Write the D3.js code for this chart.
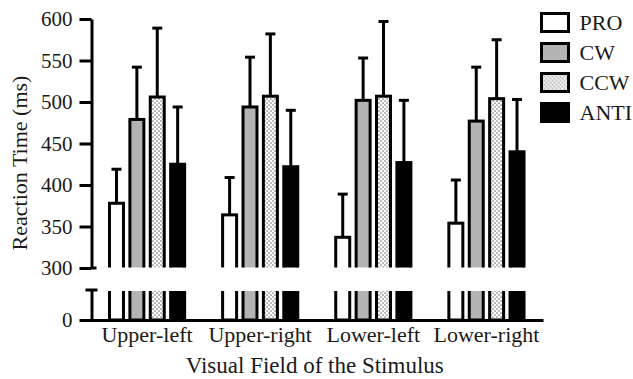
<!DOCTYPE html>
<html>
<head>
<meta charset="utf-8">
<script src="https://d3js.org/d3.v7.min.js"></script>
<style>
  body { margin: 0; background: #fff; }
  svg text { font-family: "Liberation Serif", "Times New Roman", serif; fill: #1a1a1a; }
</style>
</head>
<body>
<svg id="chart"></svg>
<script>
// data
var fields = ["Upper-left", "Upper-right", "Lower-left", "Lower-right"]
var conditions = ["PRO", "CW", "CCW", "ANTI"]
var proMean  = [378, 364, 337, 354]
var proSd    = [41, 45, 52, 52]
var cwMean   = [479, 494, 502, 477]
var cwSd     = [63, 60, 51, 65]
var ccwMean  = [506, 507, 507, 504]
var ccwSd    = [83, 75, 90, 71]
var antiMean = [425, 422, 427, 440]
var antiSd   = [69, 68, 75, 63]
var upperTicks = [300, 350, 400, 450, 500, 550, 600]
var lowerTicks = [0]

var means = [proMean, cwMean, ccwMean, antiMean]
var sds = [proSd, cwSd, ccwSd, antiSd]

var dataset = []
fields.forEach(function(f, i) {
  conditions.forEach(function(c, j) {
    dataset.push({field: f, cond: c, mean: means[j][i], sd: sds[j][i]})
  })
})

var dimensions = { width: 633, height: 379 }
var serif = '"Liberation Serif", "Times New Roman", serif'

var svg = d3.select("#chart")
            .attr("width", dimensions.width)
            .attr("height", dimensions.height)

var defs = svg.append("defs")
var pat = defs.append("pattern")
              .attr("id", "dots")
              .attr("patternUnits", "userSpaceOnUse")
              .attr("width", 4).attr("height", 4)
pat.append("rect").attr("width", 4).attr("height", 4).attr("fill", "#fff")
pat.append("circle").attr("cx", 1).attr("cy", 1).attr("r", 0.85).attr("fill", "#7a7a7a")
pat.append("circle").attr("cx", 3).attr("cy", 3).attr("r", 0.85).attr("fill", "#7a7a7a")

var fills = { PRO: "#fff", CW: "#b3b3b3", CCW: "url(#dots)", ANTI: "#000" }

// scales: broken y axis, upper part 300-600, lower stub from 0
var xScale = d3.scaleBand().domain(fields).range([90.5, 543]).padding(0)
var xSub = d3.scaleBand().domain(conditions).range([0, xScale.bandwidth()])
             .paddingInner(0.167).paddingOuter(0.858)
var yTop = d3.scaleLinear().domain([300, 600]).range([268, 19])
var yLow = d3.scaleLinear().domain([0, 36]).range([320, 290])

defs.append("clipPath").attr("id", "clipTop")
    .append("rect").attr("x", 0).attr("y", 0).attr("width", dimensions.width).attr("height", yTop(300) - 0.5)
defs.append("clipPath").attr("id", "clipLow")
    .append("rect").attr("x", 0).attr("y", yLow.range()[1] + 1).attr("width", dimensions.width)
    .attr("height", yLow(0) - yLow.range()[1])

var bw = xSub.bandwidth() - 3
function barX(d) { return xScale(d.field) + xSub(d.cond) + 1.5 }

// upper panel bars
svg.append("g").attr("clip-path", "url(#clipTop)")
   .selectAll("rect").data(dataset).enter().append("rect")
   .attr("x", barX)
   .attr("y", d => yTop(d.mean))
   .attr("width", bw)
   .attr("height", d => yTop(290) - yTop(d.mean))
   .attr("fill", d => fills[d.cond])
   .attr("stroke", "#000").attr("stroke-width", 3)

// lower panel bars
svg.append("g").attr("clip-path", "url(#clipLow)")
   .selectAll("rect").data(dataset).enter().append("rect")
   .attr("x", barX)
   .attr("y", d => yLow(Math.min(d.mean, 40)))
   .attr("width", bw)
   .attr("height", d => yLow(0) - yLow(Math.min(d.mean, 40)))
   .attr("fill", d => fills[d.cond])
   .attr("stroke", "#000").attr("stroke-width", 3)

// error bars (upward only)
var err = svg.append("g").attr("stroke", "#000").attr("stroke-width", 3)
err.selectAll("line.v").data(dataset).enter().append("line").attr("class", "v")
   .attr("x1", d => barX(d) + bw / 2).attr("x2", d => barX(d) + bw / 2)
   .attr("y1", d => yTop(d.mean)).attr("y2", d => yTop(d.mean + d.sd))
err.selectAll("line.c").data(dataset).enter().append("line").attr("class", "c")
   .attr("x1", d => barX(d) + bw / 2 - 5).attr("x2", d => barX(d) + bw / 2 + 5)
   .attr("y1", d => yTop(d.mean + d.sd)).attr("y2", d => yTop(d.mean + d.sd))

// axes
var axisX = 91.5
var yAxisTop = svg.append("g")
    .attr("transform", `translate(${axisX},0)`)
    .call(d3.axisLeft(yTop).tickValues(upperTicks).tickSize(12).tickSizeOuter(0).tickPadding(7))
var yAxisLow = svg.append("g")
    .attr("transform", `translate(${axisX},0)`)
    .call(d3.axisLeft(yLow).tickValues(lowerTicks).tickSize(12).tickSizeOuter(0).tickPadding(7))
svg.append("line")
   .attr("x1", axisX - 6).attr("x2", axisX + 6)
   .attr("y1", yLow.range()[1]).attr("y2", yLow.range()[1])
   .attr("stroke", "#000").attr("stroke-width", 3)
// short stub to the right of the 300 tick, as in the figure
svg.append("line")
   .attr("x1", axisX).attr("x2", axisX + 5)
   .attr("y1", yTop(300)).attr("y2", yTop(300))
   .attr("stroke", "#000").attr("stroke-width", 3)

var xAxis = svg.append("g")
    .attr("transform", `translate(0,${yLow(0)})`)
    .call(d3.axisBottom(xScale).tickSize(0).tickSizeOuter(0))

svg.selectAll(".domain, .tick line").attr("stroke", "#000").attr("stroke-width", 3)
;[yAxisTop, yAxisLow, xAxis].forEach(function(a) {
  a.attr("font-family", null).attr("font-size", null)
  a.selectAll("text").style("font-family", serif).attr("fill", "#1a1a1a")
})
yAxisTop.selectAll("text").style("font-size", "21px")
yAxisLow.selectAll("text").style("font-size", "21px")
xAxis.selectAll("text").style("font-size", "22px")
     .attr("y", 22).attr("dy", 0)

svg.append("text")
   .attr("x", (xScale.range()[0] + xScale.range()[1]) / 2 - 2)
   .attr("y", 373)
   .attr("text-anchor", "middle")
   .style("font-size", "23px")
   .text("Visual Field of the Stimulus")

svg.append("text")
   .attr("transform", "translate(27,163) rotate(-90)")
   .attr("text-anchor", "middle")
   .style("font-size", "22px")
   .text("Reaction Time (ms)")

// legend
var legend = svg.append("g").selectAll("g").data(conditions).enter().append("g")
    .attr("transform", (d, i) => `translate(541.5,${13.5 + i * 30})`)
legend.append("rect")
      .attr("width", 27).attr("height", 18)
      .attr("fill", d => fills[d])
      .attr("stroke", "#000").attr("stroke-width", 3)
legend.append("text")
      .attr("x", 38).attr("y", 16)
      .style("font-size", "22px")
      .text(d => d)
</script>
</body>
</html>
